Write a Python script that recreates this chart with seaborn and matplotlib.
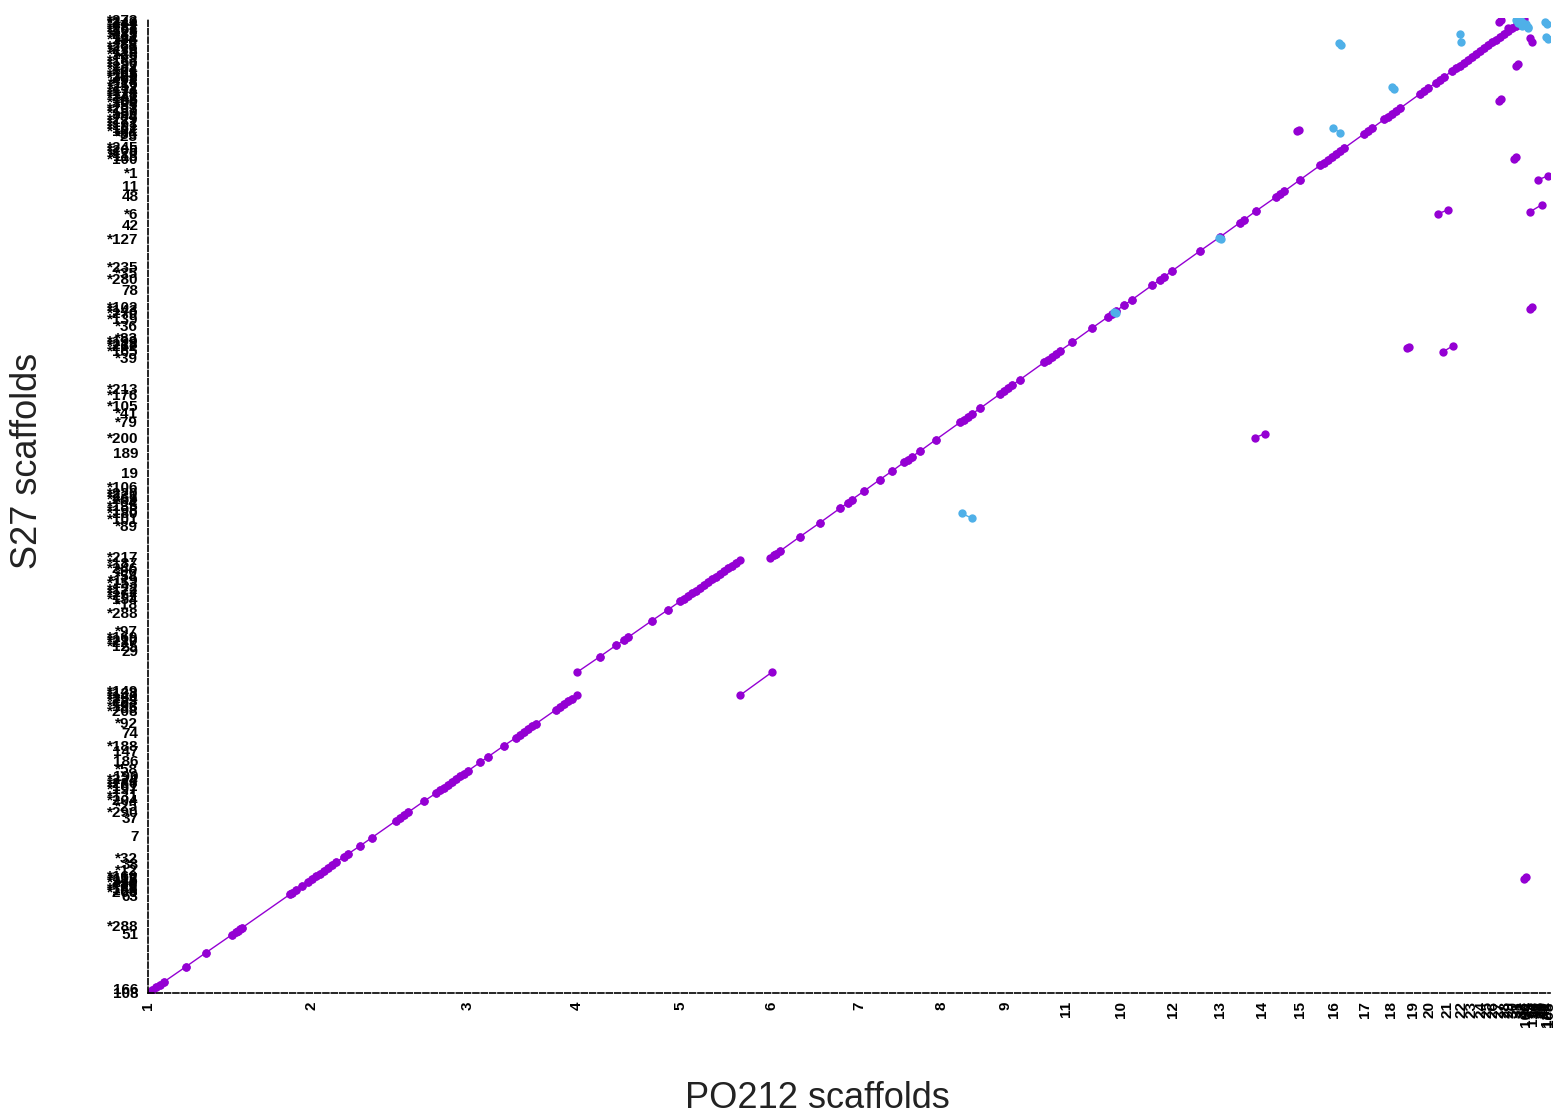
import matplotlib
matplotlib.use("Agg")
import matplotlib.pyplot as plt
import seaborn as sns
import pandas as pd

# ---------------- data (positions in Mb) ----------------
# PO212 scaffolds (x axis): names and start positions
x_names = ["1", "2", "3", "4", "5", "6", "7", "8", "9", "11", "10", "12", "13", "14",
           "15", "16", "17", "18", "19", "20", "21", "22", "23", "24", "25", "26", "27",
           "28", "29", "30", "31", "32", "33", "100", "34", "35", "114", "36", "37",
           "38", "39", "40", "41", "128", "168"]
x_starts = [0.0, 4.08, 7.98, 10.73, 13.30, 15.58, 17.78, 19.85, 21.43, 22.95, 24.33,
            25.63, 26.80, 27.85, 28.80, 29.65, 30.43, 31.08, 31.63, 32.05, 32.48, 32.83,
            33.10, 33.33, 33.50, 33.65, 33.80, 33.93, 34.05, 34.15, 34.25, 34.33, 34.40,
            34.45, 34.50, 34.57, 34.63, 34.68, 34.74, 34.80, 34.85, 34.90, 34.94, 34.97,
            35.02]

# S27 scaffolds (y axis): names and start positions
y_names = ["108", "166", "51", "*288", "63", "*266", "*148", "*80", "*215", "*160", "*12",
           "38", "*32", "7", "37", "*290", "*25", "*204", "*131", "*197", "*280", "190",
           "*58", "186", "147", "*188", "74", "*92", "*208", "*193", "*283", "*140",
           "*149", "29", "*125", "*227", "*169", "*97", "*288", "*18", "*154", "*257",
           "*122", "*153", "*54", "*96", "*187", "*217", "*89", "*101", "*180", "*135",
           "*259", "*220", "*106", "19", "189", "*200", "*79", "*41", "*105", "*176",
           "*213", "*39", "*165", "*262", "*199", "*36", "*139", "*270", "*102", "78",
           "*280", "*35", "*235", "*127", "42", "*6", "48", "11", "*1", "*100", "*120",
           "*245", "*23", "*131", "*191", "*150", "*55", "*142", "*174", "*116", "*222",
           "*164", "*156", "*95", "*118", "*263", "*70", "*111", "*228", "*281", "*144",
           "*273"]
y_starts = [0.00, 0.12, 1.48, 1.70, 2.43, 2.53, 2.63, 2.73, 2.83, 2.93, 3.08, 3.23, 3.40,
            3.95, 4.38, 4.53, 4.68, 4.83, 4.95, 5.13, 5.28, 5.45, 5.63, 5.83, 6.08, 6.20,
            6.53, 6.78, 7.08, 7.20, 7.33, 7.45, 7.58, 8.58, 8.70, 8.80, 8.93, 9.08, 9.53,
            9.75, 9.88, 9.98, 10.13, 10.28, 10.45, 10.58, 10.78, 10.93, 11.70, 11.88,
            12.03, 12.20, 12.38, 12.53, 12.68, 13.03, 13.53, 13.90, 14.30, 14.53, 14.70,
            14.98, 15.13, 15.90, 16.08, 16.20, 16.33, 16.70, 16.88, 17.03, 17.18, 17.60,
            17.88, 18.03, 18.18, 18.88, 19.23, 19.50, 19.95, 20.20, 20.53, 20.88, 21.03,
            21.18, 21.45, 21.58, 21.73, 22.03, 22.23, 22.40, 22.58, 22.78, 22.95, 23.13,
            23.28, 23.43, 23.58, 23.70, 23.83, 23.95, 24.08, 24.18, 24.28, 24.35]
# further small S27 scaffolds in the crowded label blocks
y_names_extra = ["*171", "*229", "*84", "*137", "*203", "*159", "*66", "*241", "*178",
                 "*112", "*252", "*93", "*209", "*145", "*61", "*237", "*183", "*128",
                 "*276", "*88", "*194", "*233", "*157", "*71", "*249", "*113", "*205",
                 "*86", "*162", "*218", "*83", "*143", "*198", "*64", "*231", "*172",
                 "*119", "*246", "*210", "*85", "*254", "*133", "*163", "*75", "*239",
                 "*117", "*161", "*224"]
y_starts_extra = [21.80, 21.88, 21.95, 22.10, 22.16, 22.30, 22.35, 22.47, 22.52, 22.65,
                  22.70, 22.85, 22.90, 23.02, 23.07, 23.20, 23.35, 23.50, 23.64, 23.76,
                  23.89, 24.01, 24.13, 24.23, 24.32, 20.95, 21.10, 21.50, 21.65, 16.25,
                  16.40, 17.10, 12.10, 12.30, 12.45, 10.05, 10.35, 10.65, 8.85, 7.14,
                  7.40, 7.52, 2.58, 2.68, 2.78, 2.88, 5.20, 5.37]

# main-diagonal alignment breakpoints (three collinear blocks)
diagA_x = [0.0, 0.1, 0.2, 0.3, 0.4, 0.95, 1.45, 2.1, 2.2, 2.25, 2.3, 2.35, 3.55, 3.6, 3.7,
           3.85, 4.0, 4.1, 4.2, 4.3, 4.4, 4.5, 4.6, 4.7, 4.9, 5.0, 5.3, 5.6, 6.2, 6.3, 6.4,
           6.5, 6.9, 7.2, 7.3, 7.4, 7.5, 7.6, 7.7, 7.8, 7.9, 8.0, 8.3, 8.5, 8.9, 9.2, 9.3,
           9.4, 9.5, 9.6, 9.7, 10.2, 10.3, 10.4, 10.5, 10.6, 10.73]
diagA_y = [0.0, 0.07, 0.14, 0.21, 0.28, 0.66, 1.01, 1.46, 1.53, 1.56, 1.60, 1.63, 2.47,
           2.50, 2.57, 2.68, 2.78, 2.85, 2.92, 2.99, 3.06, 3.13, 3.20, 3.27, 3.41, 3.48,
           3.68, 3.89, 4.31, 4.38, 4.45, 4.52, 4.80, 5.00, 5.07, 5.14, 5.21, 5.28, 5.35,
           5.42, 5.49, 5.56, 5.77, 5.91, 6.19, 6.39, 6.46, 6.53, 6.60, 6.67, 6.74, 7.09,
           7.16, 7.23, 7.30, 7.37, 7.45]
diagB_x = [10.73, 11.3, 11.7, 11.9, 12.0, 12.6, 13.0, 13.3, 13.4, 13.5, 13.6, 13.7, 13.8,
           13.9, 14.0, 14.1, 14.2, 14.3, 14.4, 14.5, 14.6, 14.7, 14.8]
diagB_y = [8.03, 8.42, 8.70, 8.83, 8.90, 9.32, 9.59, 9.80, 9.87, 9.94, 10.00, 10.07, 10.14,
           10.21, 10.28, 10.35, 10.42, 10.49, 10.56, 10.63, 10.69, 10.76, 10.83]
diagC_x = [15.55, 15.65, 15.7, 15.8, 16.3, 16.8, 17.3, 17.5, 17.6, 17.9, 18.3, 18.6, 18.9,
           19.0, 19.1, 19.3, 19.7, 20.3, 20.4, 20.5, 20.6, 20.8, 21.3, 21.4, 21.5, 21.6,
           21.8, 22.4, 22.5, 22.6, 22.7, 22.8, 23.1, 23.6, 24.0, 24.1, 24.2, 24.4, 24.6,
           25.1, 25.3, 25.4, 25.6, 26.3, 26.8, 27.3, 27.4, 27.7, 28.2, 28.3, 28.4, 28.8,
           29.3, 29.4, 29.5, 29.6, 29.7, 29.8, 29.9, 30.4, 30.5, 30.6, 30.9, 31.0, 31.1,
           31.2, 31.3, 31.8, 31.9, 32.0, 32.2, 32.3, 32.4, 32.6, 32.7, 32.8, 32.9, 33.0,
           33.1, 33.2, 33.3, 33.4, 33.5, 33.6, 33.7, 33.8, 33.9, 34.0, 34.1, 34.2, 34.3]
diagC_y = [10.88, 10.95, 10.99, 11.06, 11.42, 11.77, 12.13, 12.27, 12.35, 12.56, 12.85,
           13.06, 13.28, 13.35, 13.42, 13.56, 13.85, 14.28, 14.35, 14.42, 14.49, 14.63,
           14.99, 15.06, 15.13, 15.21, 15.35, 15.78, 15.85, 15.92, 16.00, 16.07, 16.28,
           16.64, 16.92, 16.99, 17.07, 17.21, 17.35, 17.71, 17.85, 17.92, 18.07, 18.57,
           18.92, 19.28, 19.35, 19.57, 19.92, 19.99, 20.06, 20.35, 20.71, 20.78, 20.85,
           20.92, 20.99, 21.07, 21.14, 21.50, 21.57, 21.64, 21.86, 21.93, 22.00, 22.07,
           22.14, 22.50, 22.57, 22.64, 22.78, 22.86, 22.93, 23.07, 23.14, 23.21, 23.28,
           23.36, 23.43, 23.50, 23.57, 23.64, 23.72, 23.79, 23.86, 23.93, 24.00, 24.07,
           24.14, 24.21, 24.28]

# other alignments (x1, x2, y1, y2, strand)
aln_x1 = [14.80, 27.68, 20.35, 32.25, 31.48, 32.38, 34.56, 34.41, 28.73, 33.78, 34.21,
          34.16, 34.55, 34.75, 33.78, 34.00, 34.55, 26.78, 24.15, 29.78, 31.11, 29.63,
          32.80, 34.25, 34.20, 34.30, 34.35, 34.93, 34.96]
aln_x2 = [15.60, 27.93, 20.60, 32.50, 31.52, 32.63, 34.60, 34.45, 28.77, 33.82, 34.25,
          34.20, 34.85, 35.00, 33.82, 34.40, 34.60, 26.82, 24.21, 29.82, 31.15, 29.80,
          32.83, 34.50, 34.35, 34.50, 34.45, 34.97, 35.00]
aln_y1 = [7.45, 13.90, 12.00, 19.50, 16.13, 16.05, 17.13, 2.86, 21.56, 22.33, 23.21,
          20.88, 19.55, 20.35, 24.31, 24.15, 23.90, 18.90, 17.05, 23.77, 22.67, 21.65,
          24.00, 24.28, 24.35, 24.38, 24.30, 24.30, 23.92]
aln_y2 = [8.03, 14.00, 11.88, 19.60, 16.17, 16.20, 17.17, 2.90, 21.60, 22.37, 23.25,
          20.92, 19.73, 20.45, 24.35, 24.38, 23.80, 18.86, 17.01, 23.73, 22.63, 21.53,
          23.80, 24.18, 24.20, 24.15, 24.25, 24.26, 23.88]
aln_strand = ["fwd", "fwd", "rev", "fwd", "fwd", "fwd", "fwd", "fwd", "fwd", "fwd", "fwd",
              "fwd", "fwd", "fwd", "fwd", "fwd", "fwd", "rev", "rev", "rev", "rev", "rev",
              "rev", "rev", "rev", "rev", "rev", "rev", "rev"]

# ---------------- build long table of segments ----------------
rows = []
seg = 0
for bx, by in ((diagA_x, diagA_y), (diagB_x, diagB_y), (diagC_x, diagC_y)):
    for i in range(min(len(bx), len(by)) - 1):
        rows.append((seg, bx[i], by[i], "fwd"))
        rows.append((seg, bx[i + 1], by[i + 1], "fwd"))
        seg += 1
for x1, x2, y1, y2, s in zip(aln_x1, aln_x2, aln_y1, aln_y2, aln_strand):
    rows.append((seg, x1, y1, s))
    rows.append((seg, x2, y2, s))
    seg += 1
df = pd.DataFrame(rows, columns=["seg", "x", "y", "strand"])

# ---------------- plot ----------------
sns.set_style("white")
plt.rcParams["font.family"] = ["Liberation Sans", "DejaVu Sans"]

fig = plt.figure(figsize=(15.59, 11.19), dpi=100)
ax = fig.add_axes([148 / 1559, 1 - 993 / 1119, (1550 - 148) / 1559, (993 - 18) / 1119])

palette = {"fwd": "#9400D3", "rev": "#4FB0E8"}
sns.lineplot(data=df, x="x", y="y", units="seg", estimator=None, hue="strand",
             palette=palette, sort=False, marker="o", markersize=6,
             markeredgewidth=0, linewidth=1.0, legend=False, ax=ax)

ax.set_xlim(0, 35.05)
ax.set_ylim(0, 24.4)

ax.set_xticks(x_starts)
ax.set_xticklabels(x_names, rotation=90, fontsize=11, fontweight="bold", color="black")
ax.set_yticks(y_starts + y_starts_extra)
ax.set_yticklabels(y_names + y_names_extra, fontsize=11, fontweight="bold", color="black")
ax.tick_params(axis="both", length=0)
ax.tick_params(axis="x", pad=6)
ax.tick_params(axis="y", pad=7)
ax.set_xlabel("")
ax.set_ylabel("")

for side in ("top", "right"):
    ax.spines[side].set_visible(False)
for side in ("left", "bottom"):
    ax.spines[side].set_linestyle((0, (3.5, 1.5)))
    ax.spines[side].set_linewidth(1.2)
    ax.spines[side].set_color("black")

fig.text(817 / 1559, 1 - 1098 / 1119, "PO212 scaffolds", fontsize=26,
         ha="center", va="center", color="#222222")
fig.text(28 / 1559, 1 - 461 / 1119, "S27 scaffolds", fontsize=26, rotation=90,
         ha="center", va="center", color="#222222")

fig.savefig("out.png", dpi=100)
